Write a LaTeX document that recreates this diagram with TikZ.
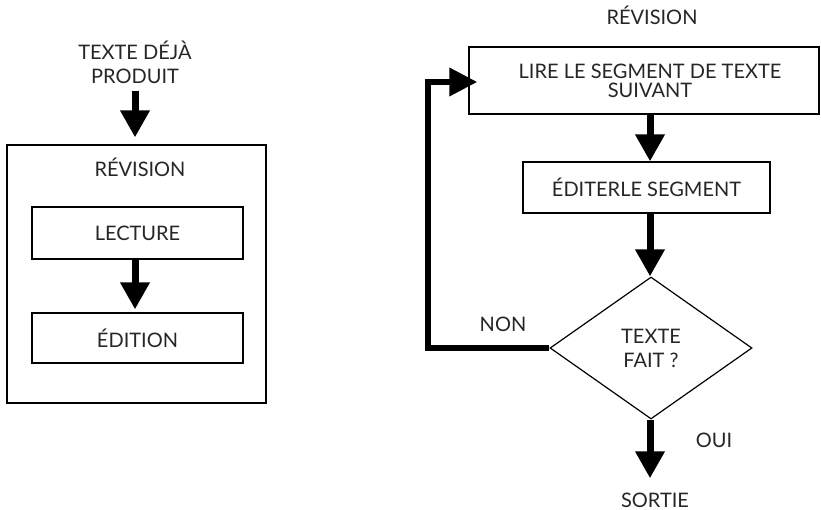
\documentclass[tikz,border=0pt]{standalone}
\usepackage{fontspec}
\setmainfont{Lato}
\usetikzlibrary{arrows.meta,shapes.geometric,calc}
\begin{document}
\begin{tikzpicture}[x=1pt,y=-1pt,
  txt/.style={font=\fontsize{20}{24}\selectfont, text=black!85, inner sep=0pt, align=center},
  boxnode/.style={draw, line width=1.2pt, inner sep=0pt, font=\fontsize{20}{19}\selectfont, text=black!85, align=center},
  arr/.style={line width=7pt, -{Triangle[width=28pt,length=27pt]}},
  loopline/.style={line width=6.5pt, -{Triangle[width=27pt,length=28pt]}}
]
\useasboundingbox (0,0) rectangle (821,510);
% left part
\node[txt] (txtin) at (135,62) {TEXTE DÉJÀ\\PRODUIT};
\node[boxnode, minimum width=259pt, minimum height=258pt] (outer) at (136.5,274) {};
\node[txt, anchor=base] (rev1) at (140,177) {RÉVISION};
\node[boxnode, minimum width=211pt, minimum height=52pt] (lect) at (137.5,233) {LECTURE};
\node[boxnode, minimum width=211pt, minimum height=50pt] (edit) at (137.5,338) {ÉDITION};
\coordinate (lx) at (135,0);
\draw[arr] (txtin.south -| lx) ++(0,7) -- ($(outer.north -| lx)+(0,-7)$);
\draw[arr] (lect.south -| lx) -- ($(edit.north -| lx)+(0,-3)$);
% right part
\node[txt, anchor=base] (rev2) at (652,25) {RÉVISION};
\node[boxnode, minimum width=350pt, minimum height=67pt] (lire) at (644,80.5) {\hspace*{12pt}LIRE LE SEGMENT DE TEXTE\\\hspace*{12pt}SUIVANT};
\node[boxnode, minimum width=247pt, minimum height=51pt] (editer) at (646.5,187.5) {ÉDITERLE SEGMENT};
\node[draw, line width=1.2pt, diamond, inner sep=0pt, minimum width=202pt, minimum height=142pt, font=\fontsize{20}{24}\selectfont, text=black!85, align=center] (dia) at (651,348) {TEXTE\\FAIT ?};
\node[txt, anchor=base] (sortie) at (655,507) {SORTIE};
\node[txt] (oui) at (714,440) {OUI};
\node[txt] (non) at (503,324) {NON};
\coordinate (rx) at (650,0);
\draw[arr] (lire.south -| rx) -- (editer.north -| rx);
\draw[arr] (editer.south -| rx) -- (dia.north -| rx);
\draw[arr] (dia.south -| rx) -- ($(sortie.north -| rx)+(0,-14)$);
\coordinate (lp) at (428,82);
\draw[loopline] (dia.west) -- (dia.west -| lp) -- (lp) -- ($(lire.west |- lp)+(9,0)$);
\end{tikzpicture}
\end{document}
